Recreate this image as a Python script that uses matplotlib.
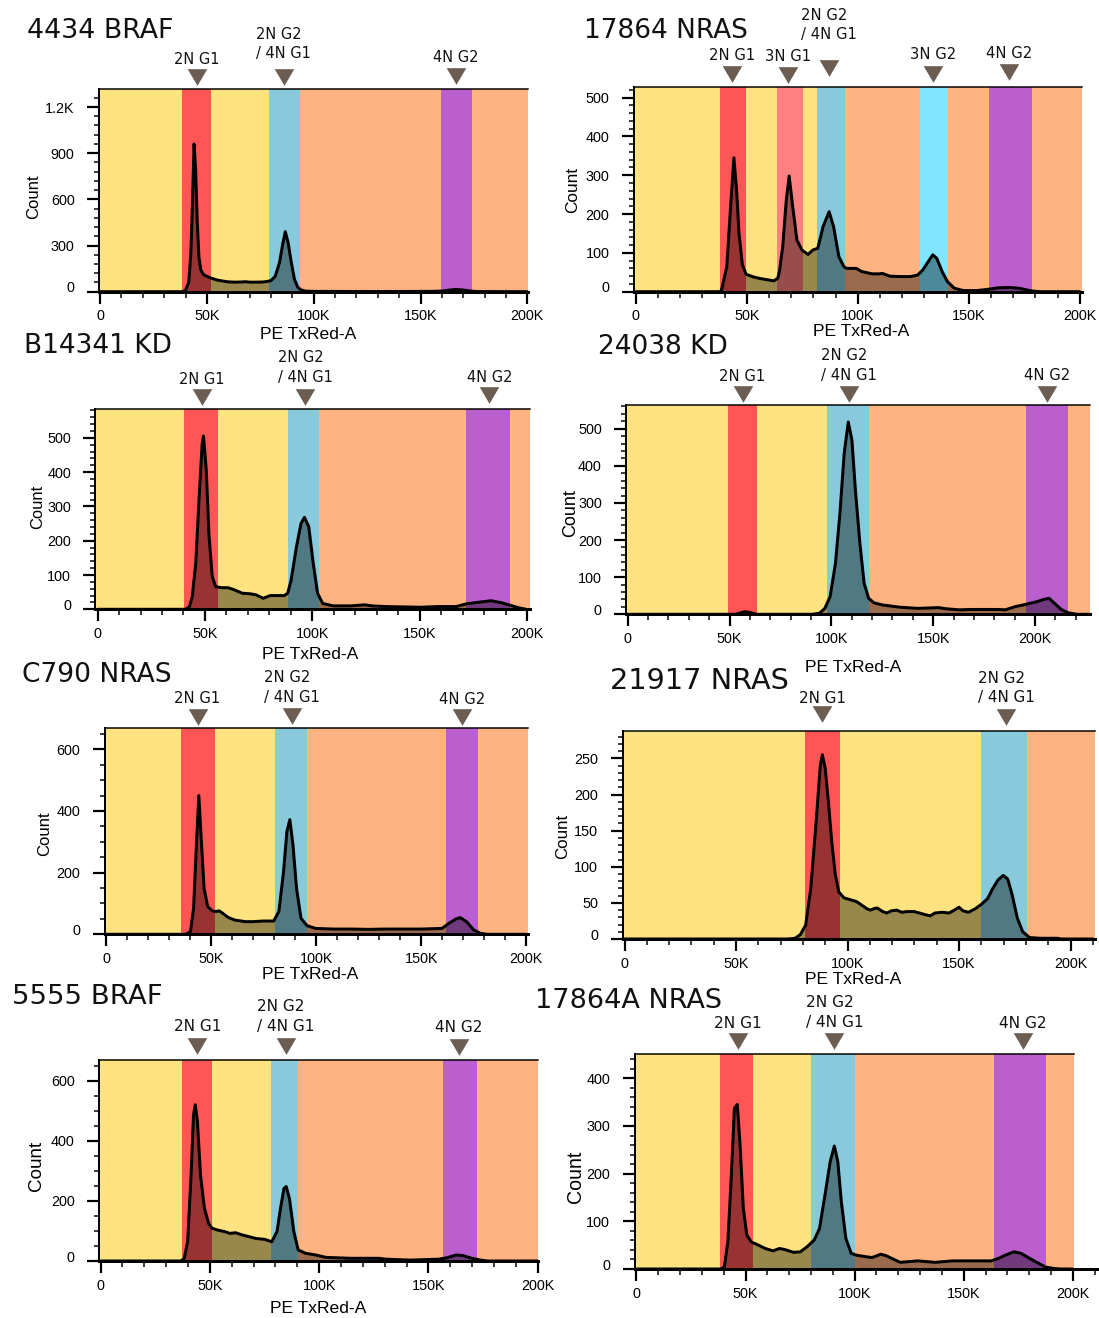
import matplotlib
matplotlib.use('Agg')
import matplotlib.pyplot as plt
from matplotlib.path import Path
from matplotlib.transforms import blended_transform_factory, ScaledTranslation
from matplotlib.ticker import MultipleLocator, FixedLocator, FuncFormatter

# ---------------- data (x in thousands of PE TxRed-A units, y = Count) ----------------
P1_TITLE = "4434 BRAF"
P1_X = [0, 38.5, 40, 41.5, 42.5, 43.3, 44, 44.7, 45.5, 46.3, 47.2, 48.5, 50, 52, 55, 58, 60, 63, 66, 68, 70,
        73, 76, 78, 80, 82, 84, 85.5, 86.7, 88, 89.5, 91, 92.5, 94, 96, 100, 130, 155, 160, 163, 166.7, 170,
        173, 176, 200]
P1_Y = [0, 0, 10, 60, 250, 600, 960, 800, 450, 220, 140, 110, 100, 88, 75, 68, 64, 62, 63, 65, 62,
        62, 63, 66, 72, 100, 190, 310, 390, 320, 190, 80, 30, 12, 4, 2, 1, 2, 4, 10, 15, 11,
        5, 1, 0]
P1_GATES = [38.4, 51.9, 79.1, 93.6, 159.6, 174.1]
P1_BANDS = ['S', '2N G1', 'S', '2N G2', 'high', '4N G2', 'high']
P1_MARK_X = [45.2, 85.9, 166.7]
P1_MARK_LABELS = ['2N G1', '2N G2\n/ 4N G1', '4N G2']
P1_YTICKS = [0, 300, 600, 900, 1200]
P1_YTICKLABELS = ['0', '300', '600', '900', '1.2K']

P2_TITLE = "17864 NRAS"
P2_X = [0, 38, 38.6, 41, 42.5, 44.2, 45.5, 46.5, 48, 49.7, 53, 56, 60, 62.3, 64, 64.7, 66.2, 67.8, 69.1,
        70.7, 72.6, 74.9, 77.6, 79.7, 82, 84.4, 87.1, 89.1, 91.5, 93.8, 95, 99.4, 101.7, 106.5, 109.6,
        111.2, 114.4, 119, 123.8, 127, 129.3, 131.7, 133.8, 135.6, 138, 140.4, 143.5, 147.5, 153.8,
        158.5, 163.2, 167.9, 172.7, 178.2, 182.2, 200]
P2_Y = [0, 0, 4, 64, 200, 345, 255, 150, 70, 45, 38, 34, 30, 28, 35, 52, 116, 236, 298,
        219, 133, 107, 96, 107, 112, 168, 206, 168, 90, 64, 60, 60, 52, 46, 46,
        47, 40, 39, 39, 43, 56, 77, 95, 86, 52, 26, 9, 3, 3,
        6, 10, 11, 9, 2, 0, 0]
P2_GATES = [38.0, 49.7, 63.6, 75.4, 81.7, 94.3, 128.2, 140.7, 159.1, 178.5]
P2_BANDS = ['S', '2N G1', 'S', '3N G1', 'S', '2N G2', 'high', '3N G2', 'high', '4N G2', 'high']
P2_MARK_X = [43.2, 68.6, 87.1, 133.8, 168.1]
P2_MARK_LABELS = ['2N G1', '3N G1', '2N G2\n/ 4N G1', '3N G2', '4N G2']
P2_YTICKS = [0, 100, 200, 300, 400, 500]
P2_YTICKLABELS = ['0', '100', '200', '300', '400', '500']

P3_TITLE = "B14341 KD"
P3_X = [0, 41, 42.8, 44.1, 45.7, 47.3, 48.7, 49.3, 50.6, 51.9, 53.4, 55, 57.5, 60.7, 63.2, 67.3, 71.3,
        73.8, 77.1, 80.3, 86.9, 88.5, 90.1, 92.6, 94.7, 96.3, 98.3, 100.4, 102.4, 104.8, 109.7, 117.9,
        124.4, 127.7, 134.2, 150.5, 158.7, 166.9, 171.8, 176.7, 183.2, 188.1, 193, 196.2, 199.5]
P3_Y = [0, 0, 8, 37, 134, 328, 483, 505, 406, 212, 95, 66, 63, 63, 58, 47, 45,
        42, 32, 40, 40, 47, 85, 183, 250, 268, 241, 134, 47, 17, 10, 10,
        13, 10, 8, 6, 8, 8, 16, 20, 25, 19, 10, 4, 0]
P3_GATES = [40.3, 56.0, 88.7, 103.0, 171.6, 191.8]
P3_BANDS = ['S', '2N G1', 'S', '2N G2', 'high', '4N G2', 'high']
P3_MARK_X = [48.7, 96.7, 182.4]
P3_MARK_LABELS = ['2N G1', '2N G2\n/ 4N G1', '4N G2']
P3_YTICKS = [0, 100, 200, 300, 400, 500]
P3_YTICKLABELS = ['0', '100', '200', '300', '400', '500']

P4_TITLE = "24038 KD"
P4_X = [0, 53, 55.5, 57.3, 59.8, 63.3, 90.8, 94.2, 96.8, 99.4, 102, 104.2, 106.3, 108.3, 110.1, 111.8,
        114, 116.1, 118.3, 120.9, 125.2, 133.8, 142.4, 152.7, 156.1, 163, 168.2, 182, 185.4, 190.5,
        195.7, 200.9, 204.3, 206.9, 209.5, 212.9, 216.3, 220.6, 227]
P4_Y = [0, 0, 4, 7, 5, 0, 0, 3, 16, 48, 137, 272, 434, 518, 469, 335,
        191, 83, 43, 31, 25, 19, 16, 18, 15, 12, 13, 13, 12, 21,
        27, 34, 40, 43, 30, 13, 4, 0, 0]
P4_GATES = [49.4, 63.5, 97.9, 118.5, 195.7, 216.2]
P4_BANDS = ['S', '2N G1', 'S', '2N G2', 'high', '4N G2', 'high']
P4_MARK_X = [56.4, 108.5, 206.0]
P4_MARK_LABELS = ['2N G1', '2N G2\n/ 4N G1', '4N G2']
P4_YTICKS = [0, 100, 200, 300, 400, 500]
P4_YTICKLABELS = ['0', '100', '200', '300', '400', '500']

P5_TITLE = "C790 NRAS"
P5_X = [0, 38.1, 40.2, 41.7, 43.1, 44.2, 45.4, 46.7, 48.4, 50.6, 52.3, 53.9, 55.6, 58.1, 61.4, 66.4,
        69.8, 74.8, 79.8, 82.3, 84.5, 86.1, 87.5, 89, 90.7, 92.8, 95.7, 99.8, 108.2, 116.5, 124.9,
        133.2, 141.6, 149.9, 159.9, 163.3, 166.6, 168.6, 171.6, 175, 178.3, 181.6, 200]
P5_Y = [0, 0, 9, 84, 300, 450, 300, 149, 90, 76, 74, 76, 68, 55, 46, 41,
        41, 43, 43, 74, 203, 333, 372, 290, 149, 52, 28, 19, 17, 17, 16,
        17, 17, 17, 19, 36, 50, 54, 41, 14, 3, 0, 0]
P5_GATES = [35.7, 51.9, 80.5, 95.8, 161.6, 177.1]
P5_BANDS = ['S', '2N G1', 'S', '2N G2', 'high', '4N G2', 'high']
P5_MARK_X = [43.6, 88.5, 169.4]
P5_MARK_LABELS = ['2N G1', '2N G2\n/ 4N G1', '4N G2']
P5_YTICKS = [0, 200, 400, 600]
P5_YTICKLABELS = ['0', '200', '400', '600']

P6_TITLE = "21917 NRAS"
P6_X = [0, 73.3, 76.5, 78.8, 81.2, 83.5, 85.9, 87.8, 88.7, 90, 91.4, 92.9, 94.5, 96.1, 98.4, 101.6,
        103.9, 106.3, 108.6, 110.2, 111.8, 113.3, 115.7, 117.6, 119.6, 122, 124.3, 126.7, 129.8, 132.2,
        134.5, 137, 139.2, 142.4, 145.5, 147.9, 149.9, 151.8, 154.2, 157.3, 160, 162.8, 165.1, 167.5,
        169.8, 171.8, 173.8, 176.1, 178.5, 181.6, 186.3, 194.2, 195.8, 210]
P6_Y = [0, 0, 1, 6, 19, 70, 162, 241, 255, 236, 190, 135, 89, 65, 57, 54,
        52, 47, 42, 40, 42, 43, 38, 36, 39, 40, 37, 38, 38, 36,
        34, 32, 36, 37, 36, 40, 44, 39, 37, 42, 48, 56, 70, 82,
        88, 83, 61, 29, 10, 2, 1, 1, 0, 0]
P6_GATES = [80.8, 96.5, 160.0, 180.4]
P6_BANDS = ['S', '2N G1', 'S', '2N G2', 'high']
P6_MARK_X = [88.7, 171.1]
P6_MARK_LABELS = ['2N G1', '2N G2\n/ 4N G1']
P6_YTICKS = [0, 50, 100, 150, 200, 250]
P6_YTICKLABELS = ['0', '50', '100', '150', '200', '250']

P7_TITLE = "5555 BRAF"
P7_X = [0, 36.6, 38.2, 39.8, 41.4, 42.5, 43.3, 44.3, 45.7, 47.5, 49.4, 51, 53.5, 56.7, 59.1, 61.8, 64.7,
        67.9, 71.1, 75.1, 78.3, 80.7, 82.3, 83.9, 84.9, 86.4, 88.4, 90.4, 93.6, 98.4, 103.2, 114.4,
        127.3, 130.5, 141.7, 154.6, 158.6, 162.6, 165.8, 169.8, 173.8, 177, 200]
P7_Y = [0, 0, 7, 64, 286, 486, 520, 464, 286, 175, 125, 109, 103, 98, 92, 94, 87,
        81, 75, 72, 64, 98, 175, 242, 248, 208, 98, 37, 26, 20, 12, 9,
        9, 6, 3, 6, 11, 20, 18, 9, 3, 0, 0]
P7_GATES = [37.2, 50.9, 78.0, 90.2, 156.7, 172.2]
P7_BANDS = ['S', '2N G1', 'S', '2N G2', 'high', '4N G2', 'high']
P7_MARK_X = [44.3, 84.8, 163.9]
P7_MARK_LABELS = ['2N G1', '2N G2\n/ 4N G1', '4N G2']
P7_YTICKS = [0, 200, 400, 600]
P7_YTICKLABELS = ['0', '200', '400', '600']

P8_TITLE = "17864A NRAS"
P8_X = [0, 38.7, 40.3, 41.9, 43.5, 44.9, 46.2, 47.4, 49, 50.6, 52.6, 55.9, 59.1, 62.6, 65.5, 67.9, 71.9,
        75.1, 78.3, 81.5, 83.9, 86.4, 88.8, 90.7, 92.3, 93.9, 96, 98.4, 100.8, 104.8, 108, 112, 114.4,
        118.5, 120.9, 128.9, 136.9, 144.9, 153, 162.6, 165.8, 169, 173, 176.2, 180.3, 184.3, 187.5,
        191.6, 194.7, 200]
P8_Y = [0, 0, 5, 57, 197, 337, 345, 267, 127, 71, 57, 50, 43, 38, 43, 41, 35,
        36, 47, 61, 85, 155, 225, 258, 225, 141, 64, 33, 29, 26, 24, 31, 28,
        19, 14, 17, 14, 17, 17, 17, 22, 29, 36, 33, 22, 12, 4,
        1, 0, 0]
P8_GATES = [38.4, 53.5, 79.9, 100.2, 163.9, 187.8]
P8_BANDS = ['S', '2N G1', 'S', '2N G2', 'high', '4N G2', 'high']
P8_MARK_X = [46.5, 90.7, 177.0]
P8_MARK_LABELS = ['2N G1', '2N G2\n/ 4N G1', '4N G2']
P8_YTICKS = [0, 100, 200, 300, 400]
P8_YTICKLABELS = ['0', '100', '200', '300', '400']

X_LABEL = "PE TxRed-A"
Y_LABEL = "Count"
X_TICKS = [0, 50, 100, 150, 200]
X_TICKLABELS = ['0', '50K', '100K', '150K', '200K']

# ---------------- styles ----------------
BAND_COLORS = {'S': '#FFE380', '2N G1': '#FF5555', '2N G2': '#88CADB', 'high': '#FFB380',
               '4N G2': '#BB5FCF', '3N G1': '#FF8080', '3N G2': '#80E5FF'}
TRI_COLOR = '#6B5D52'
TICK_FONT = 'Liberation Sans'
LABEL_FONT = 'DejaVu Sans'

W, H = 1099, 1318
fig = plt.figure(figsize=(W / 100, H / 100), dpi=100)
PX = 0.72  # points per pixel

PANELS = [
    dict(title=P1_TITLE, x=P1_X, y=P1_Y, gates=P1_GATES, bands=P1_BANDS, mx=P1_MARK_X, ml=P1_MARK_LABELS,
         yt=P1_YTICKS, ytl=P1_YTICKLABELS),
    dict(title=P2_TITLE, x=P2_X, y=P2_Y, gates=P2_GATES, bands=P2_BANDS, mx=P2_MARK_X, ml=P2_MARK_LABELS,
         yt=P2_YTICKS, ytl=P2_YTICKLABELS),
    dict(title=P3_TITLE, x=P3_X, y=P3_Y, gates=P3_GATES, bands=P3_BANDS, mx=P3_MARK_X, ml=P3_MARK_LABELS,
         yt=P3_YTICKS, ytl=P3_YTICKLABELS),
    dict(title=P4_TITLE, x=P4_X, y=P4_Y, gates=P4_GATES, bands=P4_BANDS, mx=P4_MARK_X, ml=P4_MARK_LABELS,
         yt=P4_YTICKS, ytl=P4_YTICKLABELS),
    dict(title=P5_TITLE, x=P5_X, y=P5_Y, gates=P5_GATES, bands=P5_BANDS, mx=P5_MARK_X, ml=P5_MARK_LABELS,
         yt=P5_YTICKS, ytl=P5_YTICKLABELS),
    dict(title=P6_TITLE, x=P6_X, y=P6_Y, gates=P6_GATES, bands=P6_BANDS, mx=P6_MARK_X, ml=P6_MARK_LABELS,
         yt=P6_YTICKS, ytl=P6_YTICKLABELS),
    dict(title=P7_TITLE, x=P7_X, y=P7_Y, gates=P7_GATES, bands=P7_BANDS, mx=P7_MARK_X, ml=P7_MARK_LABELS,
         yt=P7_YTICKS, ytl=P7_YTICKLABELS),
    dict(title=P8_TITLE, x=P8_X, y=P8_Y, gates=P8_GATES, bands=P8_BANDS, mx=P8_MARK_X, ml=P8_MARK_LABELS,
         yt=P8_YTICKS, ytl=P8_YTICKLABELS),
]

# layout (pixels): axes box (l, t, r, b), xlim (K), band end, ytop, minor y step,
# title (left, baseline, width), marker label baselines (last line), triangle centers,
# ylabel (x, y, size), xlabel (x, baseline), marker label font size
LAYOUT = [
    dict(box=(99, 89.3, 528, 291.7), xlim=(-0.5, 200.3), bend=None, ytop=1315, ymin=60,
         title=(27.4, 38.3, 146), lab=[64, 58.3, 62.3], tri=[77.3, 77.3, 76.0],
         ylab=(34, 196.7, 12.0), xlab=(308.6, 339.3), mfs=10.5),
    dict(box=(634, 86.7, 1081.5, 291.7), xlim=(-0.8, 200.8), bend=None, ytop=528, ymin=20,
         title=(584, 38.3, 164), lab=[60, 61, 39.3, 59.3, 57.7], tri=[73.8, 74.5, 68.3, 73.5, 71.7],
         ylab=(572.8, 190, 12.4), xlab=(861, 336.3), mfs=10.6),
    dict(box=(95.4, 409, 529.6, 609.3), xlim=(-1.0, 201.1), bend=None, ytop=584, ymin=20,
         title=(23.9, 353.3, 148), lab=[384, 382, 382], tri=[397.3, 396.5, 395.0],
         ylab=(37.5, 506.7, 11.9), xlab=(310.4, 659.3), mfs=10.5),
    dict(box=(626.3, 405.3, 1090, 614.3), xlim=(-0.7, 227.0), bend=None, ytop=563, ymin=20,
         title=(598.3, 354.3, 130), lab=[380.7, 380, 380], tri=[393.7, 393.7, 393.7],
         ylab=(570.3, 513.3, 13.0), xlab=(852.9, 672.3), mfs=10.6),
    dict(box=(104.5, 727.7, 527.9, 934.3), xlim=(-0.7, 200.8), bend=None, ytop=670, ymin=50,
         title=(21.7, 681.7, 150), lab=[702.7, 701.7, 703.7], tri=[716.7, 716.3, 717.3],
         ylab=(44.9, 834, 12.0), xlab=(310.4, 979.3), mfs=10.6),
    dict(box=(622.5, 731, 1094.5, 939), xlim=(-0.9, 210.7), bend=None, ytop=288, ymin=10,
         title=(610.2, 689.3, 179), lab=[702.7, 702.3], tri=[714.2, 716.8],
         ylab=(562.3, 836.7, 12.2), xlab=(852.9, 984.0), mfs=10.9),
    dict(box=(99.3, 1060, 538.4, 1261), xlim=(-0.6, 200.3), bend=None, ytop=669, ymin=50,
         title=(12.3, 1004.3, 150), lab=[1030.7, 1031, 1031.7], tri=[1046.3, 1046.3, 1046.5],
         ylab=(36.8, 1165.7, 13.6), xlab=(318.5, 1313.0), mfs=11.0),
    dict(box=(634.7, 1054, 1099, 1269), xlim=(-0.8, 212.0), bend=200.6, ytop=451, ymin=20,
         title=(535, 1008.3, 187), lab=[1027.7, 1026.7, 1027.7], tri=[1040.7, 1040.7, 1040.7],
         ylab=(575.2, 1176.7, 14.1), xlab=None, mfs=11.1),
]

tri_path = Path([(-1, 0.85), (1, 0.85), (0, -0.85), (-1, 0.85)],
                [Path.MOVETO, Path.LINETO, Path.LINETO, Path.CLOSEPOLY])

renderer = fig.canvas.get_renderer()


def fy(ypx):
    return 1 - ypx / H


for d, L in zip(PANELS, LAYOUT):
    l, t, r, b = L['box']
    ax = fig.add_axes([l / W, 1 - b / H, (r - l) / W, (b - t) / H])
    x0, x1 = L['xlim']
    ax.set_xlim(x0, x1)
    ax.set_ylim(0, L['ytop'])
    bend = L['bend'] if L['bend'] is not None else x1
    edges = [x0] + d['gates'] + [bend]
    for i, kind in enumerate(d['bands']):
        ax.axvspan(edges[i], edges[i + 1], color=BAND_COLORS[kind], lw=0, zorder=0)
    ax.fill_between(d['x'], d['y'], 0, color='black', alpha=0.4, lw=0, zorder=1)
    ax.plot(d['x'], d['y'], color='black', lw=3.0 * PX, zorder=3, solid_joinstyle='round',
            solid_capstyle='round', clip_on=False)
    # top border line
    ax.plot([x0, bend], [L['ytop'], L['ytop']], color='black', lw=1.5 * PX, clip_on=False, zorder=4)

    for s in ('top', 'right'):
        ax.spines[s].set_visible(False)
    ax.spines['left'].set_linewidth(2 * PX)
    ax.spines['bottom'].set_linewidth(3 * PX)
    ax.spines['left'].set_zorder(5)
    ax.spines['bottom'].set_zorder(5)

    ax.xaxis.set_major_locator(FixedLocator(X_TICKS))
    ax.xaxis.set_major_formatter(FuncFormatter(lambda v, p: X_TICKLABELS[X_TICKS.index(int(round(v)))]
                                               if int(round(v)) in X_TICKS else ''))
    ax.xaxis.set_minor_locator(MultipleLocator(10))
    yt, ytl = d['yt'], d['ytl']
    ax.yaxis.set_major_locator(FixedLocator(yt))
    ax.yaxis.set_major_formatter(FuncFormatter(lambda v, p, yt=yt, ytl=ytl:
                                               ytl[yt.index(int(round(v)))] if int(round(v)) in yt else ''))
    ax.yaxis.set_minor_locator(MultipleLocator(L['ymin']))
    ax.tick_params(which='major', length=12 * PX, width=2.2 * PX, color='black')
    ax.tick_params(which='minor', length=5.5 * PX, width=1.5 * PX, color='black')
    ax.tick_params(axis='y', which='major', pad=9)
    ax.tick_params(axis='x', which='major', pad=4)
    for lab in ax.get_xticklabels() + ax.get_yticklabels():
        lab.set_fontfamily(TICK_FONT)
        lab.set_fontsize(10.4)
    # raise the "0" y tick label slightly, as in the reference
    t0 = ax.yaxis.get_major_ticks()[0].label1
    t0.set_transform(t0.get_transform() + ScaledTranslation(0, 5 / 100, fig.dpi_scale_trans))

    # markers and labels
    btr = blended_transform_factory(ax.transData, fig.transFigure)
    for mx, ml, ly, ty in zip(d['mx'], d['ml'], L['lab'], L['tri']):
        ax.plot([mx], [fy(ty)], marker=tri_path, ms=14.1, color=TRI_COLOR, mec='none',
                transform=btr, clip_on=False, zorder=6)
        ax.text(mx, fy(ly), ml, transform=btr, ha='center', va='baseline', multialignment='left',
                fontsize=L['mfs'], family=LABEL_FONT, linespacing=1.38, color='#111111')

    # title fitted to its width
    tl, tb, tw = L['title']
    tt = fig.text(tl / W, fy(tb), d['title'], ha='left', va='baseline', fontsize=20, family=LABEL_FONT,
                  color='#111111')
    bb = tt.get_window_extent(renderer)
    tt.set_fontsize(20 * tw / bb.width)

    yx, yy, ys = L['ylab']
    fig.text(yx / W, fy(yy), Y_LABEL, rotation=90, ha='center', va='center', fontsize=ys, family=TICK_FONT)
    if L['xlab'] is not None:
        xx, xb = L['xlab']
        fig.text(xx / W, fy(xb), X_LABEL, ha='center', va='baseline', fontsize=12.6, family=TICK_FONT)

fig.savefig('out.png', dpi=100)
